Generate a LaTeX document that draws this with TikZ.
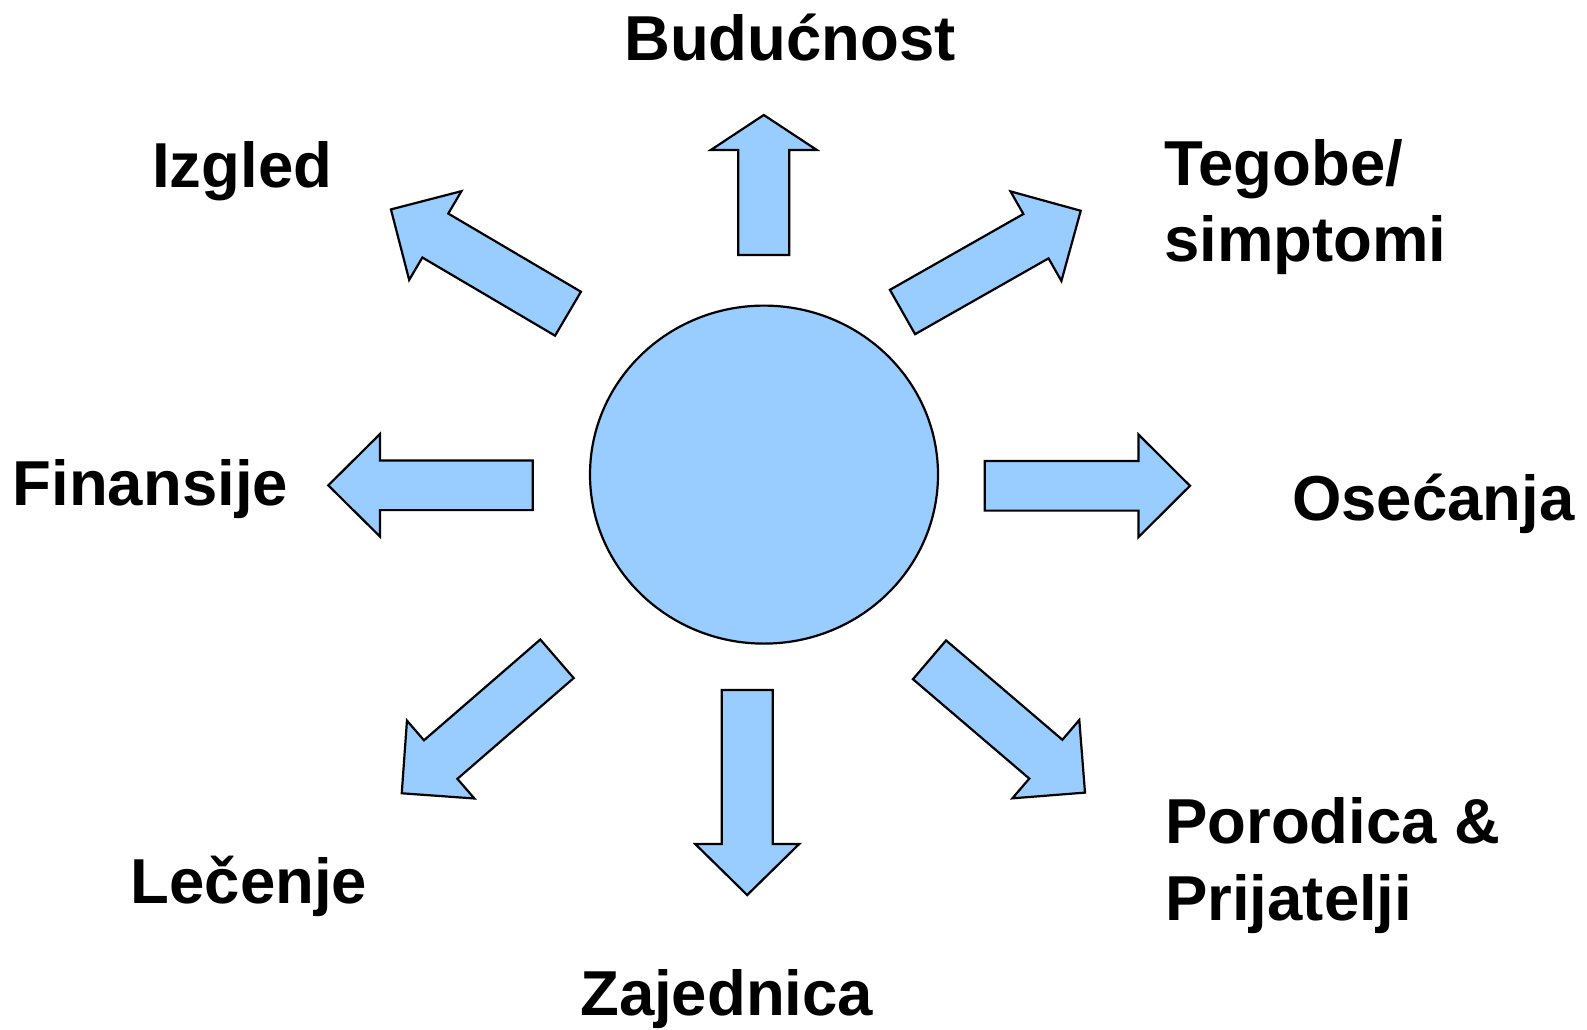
\documentclass[tikz,border=0pt]{standalone}
\usepackage{fontspec}
\setmainfont{Liberation Sans}
\usetikzlibrary{shapes.geometric}
\definecolor{fillblue}{HTML}{99CCFF}
\tikzset{
  blockarr/.style={draw=black, fill=fillblue, line width=2.2pt, line join=miter},
  lbl/.style={anchor=base west, inner sep=0pt, align=left,
    font=\fontsize{63.5}{76.5}\selectfont\bfseries}
}
% #1 name, #2 tail x, #3 tail y, #4 angle, #5 length, #6 head length, #7 half shaft, #8 half head
\newcommand{\blockarrowdraw}[8]{%
  \coordinate (#1) at (#2,#3);
  \draw[blockarr, shift={(#1)}, rotate=#4]
    (0,-#7) -- ({#5-#6},-#7) -- ({#5-#6},-#8) -- (#5,0) -- ({#5-#6},#8)
    -- ({#5-#6},#7) -- (0,#7) -- cycle;}
\begin{document}
\begin{tikzpicture}[x=1pt,y=-1pt]
\useasboundingbox (0,0) rectangle (1587,1030);
% centre circle
\node[draw=black, fill=fillblue, line width=2.2pt, ellipse, inner sep=0pt,
  minimum width=348pt, minimum height=338pt] (hub) at (764,474.6) {};
% arrows
\blockarrowdraw{aup}{763.8}{255}{90}{140}{35}{25.5}{53}
\blockarrowdraw{aul}{568}{313.7}{149.5}{205.5}{51.5}{25.5}{51.5}
\blockarrowdraw{aur}{902.5}{312}{29.6}{205}{51.5}{25.5}{51.5}
\blockarrowdraw{aleft}{532.7}{485.3}{180}{204.4}{51.7}{24.8}{51.3}
\blockarrowdraw{aright}{984.7}{485.8}{0}{205.3}{51.5}{24.8}{51.3}
\blockarrowdraw{adl}{557}{658.8}{220.9}{205.4}{51.5}{25.5}{51.5}
\blockarrowdraw{adown}{747.2}{690}{270}{205}{51}{25.5}{52}
\blockarrowdraw{adr}{929.5}{659.8}{-40.5}{204.5}{51.5}{25.5}{51.5}
% labels (multi-line nodes: base = last line)
\node[lbl] (tbud) at (624,60.7) {Budućnost};
\node[lbl] (tizg) at (152,187) {Izgled};
\node[lbl] (tteg) at (1164,261.7) {Tegobe/\\simptomi};
\node[lbl] (tfin) at (12.5,505) {Finansije};
\node[lbl] (tose) at (1292,520) {Osećanja};
\node[lbl] (tlec) at (130.5,903.3) {Lečenje};
\node[lbl] (tzaj) at (580,1015) {Zajednica};
\node[lbl] (tpor) at (1165,920) {Porodica \&\\Prijatelji};
\end{tikzpicture}
\end{document}
